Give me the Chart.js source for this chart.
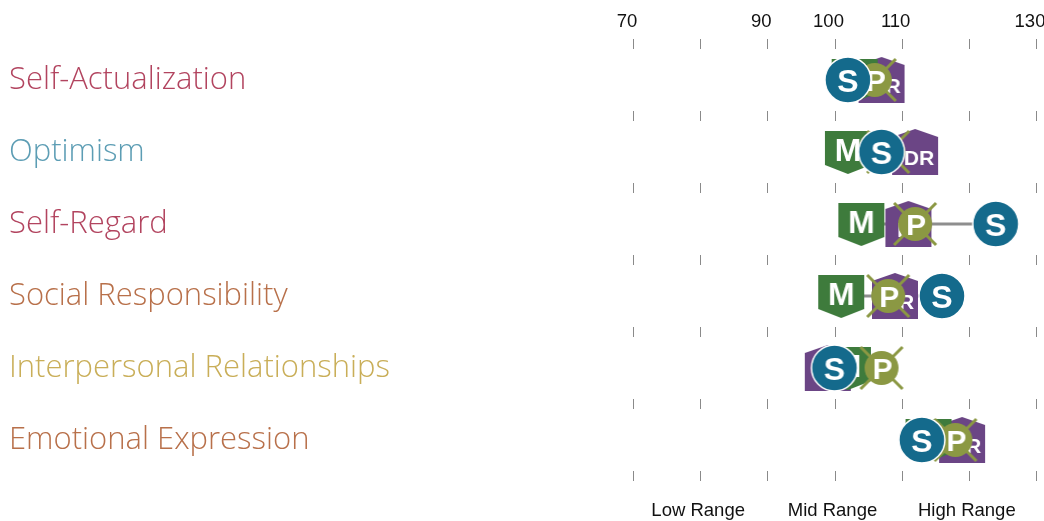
<!DOCTYPE html>
<html>
<head>
<meta charset="utf-8">
<script src="https://cdn.jsdelivr.net/npm/chart.js@4.4.1/dist/chart.umd.min.js"></script>
<style>
  html, body { margin: 0; padding: 0; background: #ffffff; overflow: hidden; width: 1044px; height: 521px; }
  #c { display: block; }
</style>
</head>
<body>
<canvas id="c" width="1060" height="521" style="width:1060px;height:521px"></canvas>
<script>
// ---- data ----
const categories = ['Self-Actualization', 'Optimism', 'Self-Regard', 'Social Responsibility', 'Interpersonal Relationships', 'Emotional Expression'];
const categoryColors = ['#b2445f', '#5c9db4', '#b2445f', '#b8704a', '#c9ae58', '#b8704a'];
const selfScores = [102, 107, 124, 116, 100, 113];
const managerScores = [103, 102, 104, 101, 102, 114];
const directReportScores = [107, 112, 111, 109, 99, 119];
const peerScores = [106, 108, 112, 108, 107, 118];
const topTickLabels = [70, 90, 100, 110, 130];
const rangeLabels = ['Low Range', 'Mid Range', 'High Range'];
const rangeLabelValues = [80, 100, 120];

// ---- marker images ----
const BLUE = '#146a8c', GREEN = '#3e7b3c', PURPLE = '#6b4585', OLIVE = '#8b9843';
const LETTER_FONT = '"Liberation Sans", Arial, Helvetica, sans-serif';
function makeCanvas(w, h, draw) {
  const cv = document.createElement('canvas');
  cv.width = w; cv.height = h;
  draw(cv.getContext('2d'), w, h);
  return cv;
}
const selfMarker = makeCanvas(50, 50, (g) => {
  g.beginPath(); g.arc(25, 25, 23, 0, Math.PI * 2);
  g.fillStyle = BLUE; g.fill();
  g.lineWidth = 1.5; g.strokeStyle = '#ffffff'; g.stroke();
  g.fillStyle = '#fff'; g.font = 'bold 32px ' + LETTER_FONT;
  g.textAlign = 'center'; g.textBaseline = 'alphabetic';
  g.fillText('S', 25, 36.5);
});
const managerMarker = makeCanvas(48, 46, (g) => {
  g.beginPath();
  g.moveTo(1, 2); g.lineTo(47, 2); g.lineTo(47, 36); g.lineTo(24, 45); g.lineTo(1, 36); g.closePath();
  g.fillStyle = GREEN; g.fill();
  g.fillStyle = '#fff'; g.font = 'bold 32px ' + LETTER_FONT;
  g.textAlign = 'center'; g.textBaseline = 'alphabetic';
  g.fillText('M', 24, 32);
});
const directMarker = makeCanvas(48, 50, (g) => {
  g.beginPath();
  g.moveTo(1, 10); g.lineTo(24, 2); g.lineTo(47, 10); g.lineTo(47, 48); g.lineTo(1, 48); g.closePath();
  g.fillStyle = PURPLE; g.fill();
  g.fillStyle = '#fff'; g.font = 'bold 21px ' + LETTER_FONT;
  g.textAlign = 'center'; g.textBaseline = 'alphabetic';
  g.fillText('DR', 28, 38);
});
const peerMarker = makeCanvas(48, 48, (g) => {
  g.strokeStyle = OLIVE; g.lineWidth = 3;
  g.beginPath(); g.moveTo(3, 3); g.lineTo(45, 45); g.moveTo(45, 3); g.lineTo(3, 45); g.stroke();
  g.beginPath(); g.arc(24, 24, 17, 0, Math.PI * 2);
  g.fillStyle = OLIVE; g.fill();
  g.fillStyle = '#fff'; g.font = 'bold 30px ' + LETTER_FONT;
  g.textAlign = 'center'; g.textBaseline = 'alphabetic';
  g.fillText('P', 25, 34.5);
});

function toPoints(arr) { return arr.map((v, i) => ({ x: v, y: categories[i] })); }

const markerSets = [
  { label: 'Self', data: toPoints(selfScores), style: selfMarker },
  { label: 'Peers', data: toPoints(peerScores), style: peerMarker },
  { label: 'Manager', data: toPoints(managerScores), style: managerMarker },
  { label: 'Direct Reports', data: toPoints(directReportScores), style: directMarker }
].map(s => ({
  type: 'scatter', label: s.label, data: s.data,
  pointStyle: s.style, pointRadius: 23, pointHoverRadius: 23, showLine: false
}));

const rangeSets = categories.map((cat, i) => {
  const vals = [selfScores[i], managerScores[i], directReportScores[i], peerScores[i]];
  return {
    type: 'scatter', label: 'range ' + cat, showLine: true,
    data: [{ x: Math.min(...vals), y: cat }, { x: Math.max(...vals), y: cat }],
    borderColor: '#8e8e8e', borderWidth: 3, pointRadius: 0, pointHoverRadius: 0
  };
});

// short tick marks on the row boundaries
const boundaryTicks = {
  id: 'boundaryTicks',
  beforeDatasetsDraw(chart) {
    const xs = chart.scales.x, ys = chart.scales.y, g = chart.ctx;
    g.save();
    g.strokeStyle = '#8a8a8a'; g.lineWidth = 1;
    for (let i = 0; i <= categories.length; i++) {
      const y = ys.getPixelForValue(i - 0.5);
      xs.ticks.forEach(t => {
        const x = Math.round(xs.getPixelForValue(t.value)) + 0.5;
        g.beginPath(); g.moveTo(x, y - 5); g.lineTo(x, y + 5); g.stroke();
      });
    }
    g.restore();
  }
};

const AXIS_FONT = { family: '"Liberation Sans", Arial, sans-serif', size: 18.5 };

new Chart(document.getElementById('c'), {
  type: 'scatter',
  data: { datasets: [...markerSets, ...rangeSets] },
  options: {
    responsive: false, maintainAspectRatio: false, animation: false, devicePixelRatio: 1,
    layout: { padding: { left: 9, right: 8, top: 0, bottom: 0 } },
    plugins: { legend: { display: false }, tooltip: { enabled: false } },
    scales: {
      x: {
        type: 'linear', position: 'top', min: 70, max: 130,
        grid: { display: false, drawTicks: false }, border: { display: false },
        ticks: {
          stepSize: 10, padding: 11, labelOffset: -6, maxRotation: 0, autoSkip: false,
          color: '#111', font: AXIS_FONT,
          callback: (v) => topTickLabels.includes(v) ? String(v) : ''
        },
        afterFit(s) { s.height = 44; s.paddingLeft = 0; s.paddingRight = 0; }
      },
      x2: {
        type: 'linear', position: 'bottom', min: 70, max: 130,
        grid: { display: false, drawTicks: false }, border: { display: false },
        afterBuildTicks(s) { s.ticks = rangeLabelValues.map(v => ({ value: v })); },
        ticks: {
          padding: 24, labelOffset: -2, maxRotation: 0, autoSkip: false,
          color: '#111', font: AXIS_FONT,
          callback: (v) => rangeLabels[rangeLabelValues.indexOf(v)] || ''
        },
        afterFit(s) { s.height = 45; s.paddingLeft = 0; s.paddingRight = 0; }
      },
      y: {
        type: 'category', labels: categories, offset: true, position: 'left',
        grid: { display: false, drawTicks: false }, border: { display: false },
        ticks: {
          crossAlign: 'far', padding: 0, autoSkip: false,
          color: (ctx) => categoryColors[ctx.index],
          font: { family: '"Open Sans", Lato, sans-serif', size: 31, weight: '300' }
        },
        afterFit(s) { s.width = 624; s.paddingTop = 0; s.paddingBottom = 0; }
      }
    }
  },
  plugins: [boundaryTicks]
});
</script>
</body>
</html>
